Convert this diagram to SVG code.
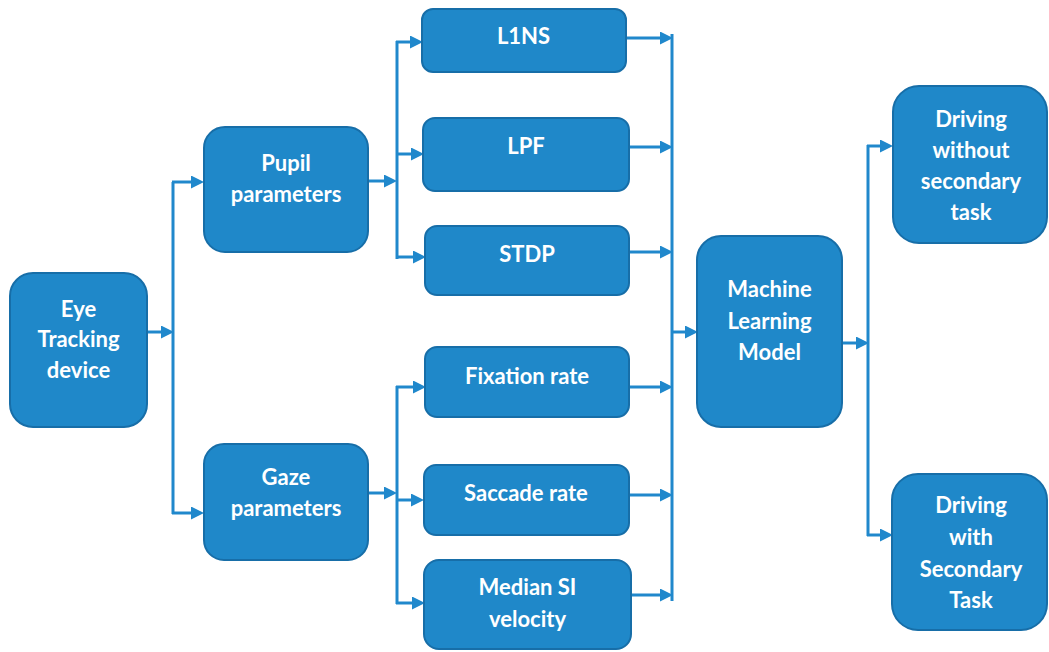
<svg xmlns="http://www.w3.org/2000/svg" width="1049" height="652" viewBox="0 0 1049 652">
  <style>
    .box { fill: #1f88c9; stroke: #176ea8; stroke-width: 2; }
    .lbl { fill: #ffffff; font-family: Lato, "Open Sans", "Liberation Sans", sans-serif; font-weight: 700; font-size: 22px; text-anchor: middle; }
    .ln { fill: none; stroke: #2088cc; stroke-width: 3; }
    .ar { fill: none; stroke: #2088cc; stroke-width: 3; marker-end: url(#head); }
  </style>
  <defs>
    <marker id="head" markerUnits="userSpaceOnUse" markerWidth="13" markerHeight="13" refX="6" refY="6.5" orient="auto">
      <path d="M0,0 L13,6.5 L0,13 Z" fill="#2088cc"/>
    </marker>
  </defs>
  <rect width="1049" height="652" fill="#ffffff"/>

  <!-- connectors -->
  <g id="connectors">
    <!-- eye tracker to parameter groups -->
    <path class="ar" d="M147,332 H167"/>
    <path class="ln" d="M173,182 V514"/>
    <path class="ar" d="M172,182 H197"/>
    <path class="ar" d="M172,513 H197"/>
    <!-- pupil features -->
    <path class="ar" d="M368,181 H390"/>
    <path class="ln" d="M397,41 V259"/>
    <path class="ar" d="M396,42 H416"/>
    <path class="ar" d="M396,154 H417"/>
    <path class="ar" d="M396,257 H419"/>
    <!-- gaze features -->
    <path class="ar" d="M368,493 H390"/>
    <path class="ln" d="M397,386 V604"/>
    <path class="ar" d="M396,387 H419"/>
    <path class="ar" d="M396,500 H417"/>
    <path class="ar" d="M396,603 H418"/>
    <!-- features to collector bar -->
    <path class="ln" d="M672,34 V601"/>
    <path class="ar" d="M626,38 H666"/>
    <path class="ar" d="M629,147 H666"/>
    <path class="ar" d="M629,252 H666"/>
    <path class="ar" d="M629,387 H666"/>
    <path class="ar" d="M629,495 H666"/>
    <path class="ar" d="M631,595 H666"/>
    <path class="ar" d="M672,332 H691"/>
    <!-- model outputs -->
    <path class="ar" d="M842,343 H862"/>
    <path class="ln" d="M868,145 V536"/>
    <path class="ar" d="M867,146 H886"/>
    <path class="ar" d="M867,535 H886"/>
  </g>

  <g id="eye-tracking">
    <rect class="box" x="10" y="273" width="137" height="154" rx="23"/>
    <text class="lbl"><tspan x="78.5" y="317">Eye</tspan><tspan x="78.5" y="347">Tracking</tspan><tspan x="78.5" y="378">device</tspan></text>
  </g>
  <g id="pupil-parameters">
    <rect class="box" x="204" y="127" width="164" height="125" rx="21"/>
    <text class="lbl"><tspan x="286" y="171">Pupil</tspan><tspan x="286" y="202">parameters</tspan></text>
  </g>
  <g id="gaze-parameters">
    <rect class="box" x="204" y="444" width="164" height="116" rx="20"/>
    <text class="lbl"><tspan x="286" y="485">Gaze</tspan><tspan x="286" y="516">parameters</tspan></text>
  </g>
  <g id="l1ns">
    <rect class="box" x="422" y="9" width="204" height="63" rx="11"/>
    <text class="lbl" x="523.5" y="44">L1NS</text>
  </g>
  <g id="lpf">
    <rect class="box" x="423" y="118" width="206" height="73" rx="12"/>
    <text class="lbl" x="526" y="154">LPF</text>
  </g>
  <g id="stdp">
    <rect class="box" x="425" y="226" width="204" height="69" rx="12"/>
    <text class="lbl" x="527" y="262">STDP</text>
  </g>
  <g id="fixation-rate">
    <rect class="box" x="425" y="347" width="204" height="70" rx="12"/>
    <text class="lbl" x="527" y="384">Fixation rate</text>
  </g>
  <g id="saccade-rate">
    <rect class="box" x="424" y="465" width="205" height="70" rx="12"/>
    <text class="lbl" x="526" y="501">Saccade rate</text>
  </g>
  <g id="median-si-velocity">
    <rect class="box" x="424" y="560" width="207" height="89" rx="15"/>
    <text class="lbl"><tspan x="527.5" y="595">Median SI</tspan><tspan x="527.5" y="627">velocity</tspan></text>
  </g>
  <g id="machine-learning-model">
    <rect class="box" x="697" y="236" width="145" height="191" rx="24"/>
    <text class="lbl"><tspan x="769.5" y="297">Machine</tspan><tspan x="769.5" y="329">Learning</tspan><tspan x="769.5" y="360">Model</tspan></text>
  </g>
  <g id="driving-without-secondary-task">
    <rect class="box" x="893" y="86" width="154" height="157" rx="26"/>
    <text class="lbl"><tspan x="971" y="127">Driving</tspan><tspan x="971" y="158">without</tspan><tspan x="971" y="189">secondary</tspan><tspan x="971" y="220">task</tspan></text>
  </g>
  <g id="driving-with-secondary-task">
    <rect class="box" x="892" y="474" width="155" height="156" rx="26"/>
    <text class="lbl"><tspan x="971" y="513">Driving</tspan><tspan x="971" y="545">with</tspan><tspan x="971" y="577">Secondary</tspan><tspan x="971" y="608">Task</tspan></text>
  </g>
</svg>
